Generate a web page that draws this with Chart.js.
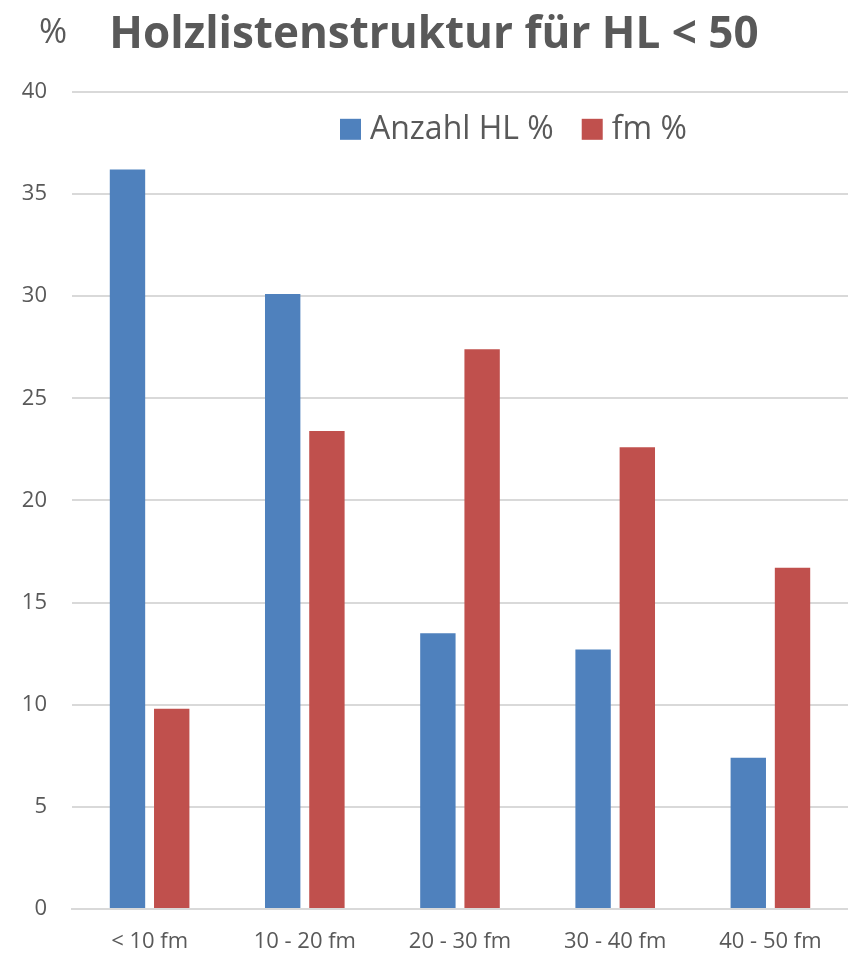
<!DOCTYPE html>
<html>
<head>
<meta charset="utf-8">
<script src="https://cdn.jsdelivr.net/npm/chart.js@4/dist/chart.umd.min.js"></script>
<style>
  html, body { margin: 0; padding: 0; background: #fff; }
  #wrap { width: 848px; height: 957px; }
</style>
</head>
<body>
<div id="wrap"><canvas id="myCanvas"></canvas></div>
<script>
// values
const labels = ['< 10 fm', '10 - 20 fm', '20 - 30 fm', '30 - 40 fm', '40 - 50 fm'];
const anzahlHL = [36.2, 30.1, 13.5, 12.7, 7.4];
const fm = [9.8, 23.4, 27.4, 22.6, 16.7];
const yTicks = [0, 5, 10, 15, 20, 25, 30, 35, 40];

const FONT = "'Open Sans', 'DejaVu Sans', sans-serif";
const GREY = '#595959';

// the "%" next to the title and the legend inside the plot
const extras = {
    id: 'extras',
    afterDraw(chart) {
        const ctx = chart.ctx;
        const area = chart.chartArea;
        ctx.save();
        ctx.fillStyle = GREY;
        ctx.font = '34px ' + FONT;
        ctx.textBaseline = 'middle';
        ctx.textAlign = 'left';
        ctx.fillText('%', 39, 33);

        // legend
        let x = 340;
        const y = area.top + 37;
        ctx.font = '32px ' + FONT;
        chart.data.datasets.forEach(ds => {
            ctx.fillStyle = ds.backgroundColor;
            ctx.fillRect(x, y - 10, 21, 21);
            ctx.fillStyle = GREY;
            ctx.fillText(ds.label, x + 30, y + 1);
            x += 30 + ctx.measureText(ds.label).width + 28;
        });
        ctx.restore();
    }
};

const ctx = document.getElementById('myCanvas').getContext('2d');
const chart = new Chart(ctx, {
    type: 'bar',
    data: {
        labels: labels,
        datasets: [{
            label: 'Anzahl HL %',
            data: anzahlHL,
            backgroundColor: '#4F81BD'
        }, {
            label: 'fm %',
            data: fm,
            backgroundColor: '#C0504D'
        }]
    },
    options: {
        responsive: true,
        maintainAspectRatio: false,
        animation: false,
        layout: { padding: { left: 20, right: 0, top: 9, bottom: 0 } },
        datasets: {
            bar: { categoryPercentage: 0.57, barPercentage: 0.8 }
        },
        plugins: {
            legend: { display: false },
            tooltip: { enabled: false },
            title: {
                display: true,
                text: 'Holzlistenstruktur für HL < 50',
                color: GREY,
                font: { family: FONT, size: 44, weight: 'bold' },
                padding: { top: 0, bottom: 30 }
            }
        },
        scales: {
            x: {
                afterFit(scale) { scale.height = 48; },
                grid: { display: false, drawTicks: false },
                border: { display: true, color: '#D9D9D9', width: 2 },
                ticks: { color: GREY, font: { family: FONT, size: 22 }, padding: 20 }
            },
            y: {
                min: 0,
                max: 40,
                afterBuildTicks(scale) {
                    scale.ticks = yTicks.map(v => ({ value: v }));
                },
                afterFit(scale) { scale.width = 52; },
                grid: { color: '#D9D9D9', lineWidth: 2, drawTicks: false },
                border: { display: false },
                ticks: { color: GREY, font: { family: FONT, size: 22 }, padding: 25 }
            }
        }
    },
    plugins: [extras]
});
</script>
</body>
</html>
